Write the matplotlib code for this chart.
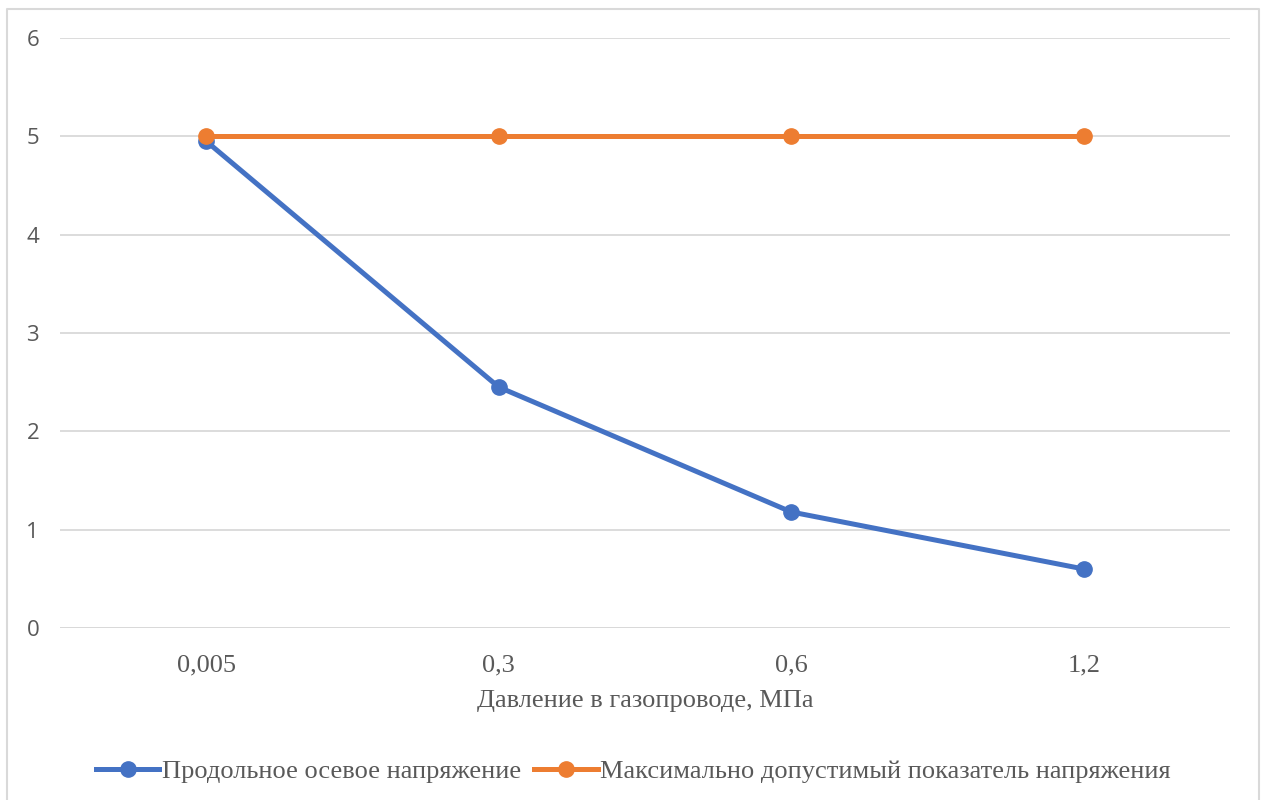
import matplotlib
matplotlib.use("Agg")
import matplotlib.pyplot as plt
from matplotlib.lines import Line2D
import numpy as np

# -------- Data --------
categories = ["0,005", "0,3", "0,6", "1,2"]
axial_stress = [4.95, 2.45, 1.18, 0.60]
max_allowed = [5, 5, 5, 5]
series_names = ["Продольное осевое напряжение",
                "Максимально допустимый показатель напряжения"]
x_label = "Давление в газопроводе, МПа"
y_ticks = [0, 1, 2, 3, 4, 5, 6]

# -------- Style --------
blue = "#4472C4"
orange = "#ED7D31"
grid_color = "#D9D9D9"
text_color = "#595959"
serif = "Liberation Serif"
sans = "Open Sans"
lw = 3.6
ms = 11

fig = plt.figure(figsize=(12.67, 8.0), dpi=100)
ax = fig.add_axes([60 / 1267, 1 - 628 / 800, 1170 / 1267, 590 / 800])

x = np.arange(len(categories))
ax.plot(x, axial_stress, color=blue, lw=lw, marker="o", ms=ms,
        solid_capstyle="round", zorder=3)
ax.plot(x, max_allowed, color=orange, lw=lw, marker="o", ms=ms,
        solid_capstyle="round", zorder=4)

ax.set_xlim(-0.5, len(categories) - 0.5)
ax.set_ylim(0, 6)
ax.set_yticks(y_ticks)
ax.set_yticklabels([str(t) for t in y_ticks], fontfamily=sans,
                   fontsize=16, color=text_color)
ax.set_xticks(x)
ax.set_xticklabels(categories, fontfamily=serif, fontsize=19,
                   color=text_color)
ax.tick_params(axis="y", length=0, pad=15)
ax.tick_params(axis="x", length=0, pad=19)
ax.set_xlabel(x_label, fontfamily=serif, fontsize=19, color=text_color,
              labelpad=10)

ax.grid(axis="y", color=grid_color, lw=1.3)
ax.set_axisbelow(True)
for s in ax.spines.values():
    s.set_visible(False)
ax.axhline(0, color=grid_color, lw=1.3, zorder=1)

# legend
handles = [Line2D([0], [0], color=blue, lw=lw, marker="o", ms=ms),
           Line2D([0], [0], color=orange, lw=lw, marker="o", ms=ms)]
leg = fig.legend(handles, series_names, loc="center",
                 bbox_to_anchor=(0.5, 1 - 771 / 800), ncol=2,
                 frameon=False, handlelength=2.4, handletextpad=0.1,
                 columnspacing=0.5, prop={"family": serif, "size": 19})
for t in leg.get_texts():
    t.set_color(text_color)

# outer chart border
bx0, bx1 = 7 / 1267, 1259 / 1267
by1 = 1 - 9 / 800
fig.add_artist(Line2D([bx0, bx0, bx1, bx1], [-0.01, by1, by1, -0.01],
                      color=grid_color, lw=1.5, transform=fig.transFigure))

fig.savefig("out.png", dpi=100)
